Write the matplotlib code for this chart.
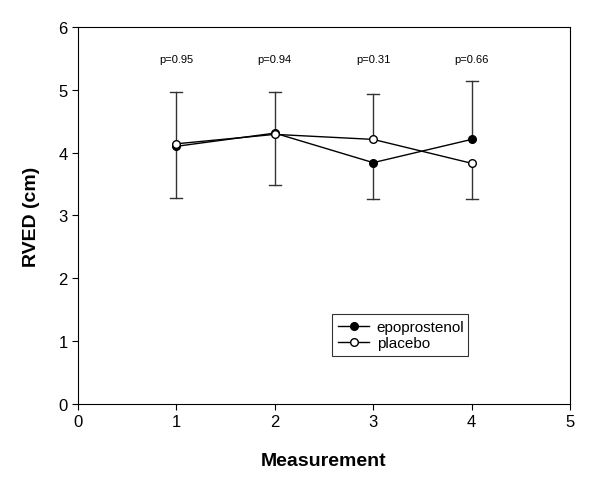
import numpy as np
import matplotlib.pyplot as plt

plt.rcParams['font.family'] = ['Liberation Sans', 'DejaVu Sans']

measurement = [1, 2, 3, 4]
epoprostenol = [4.10, 4.31, 3.84, 4.21]
placebo = [4.14, 4.29, 4.21, 3.83]
# whisker ends
bar_top = [4.97, 4.97, 4.93, 5.14]
bar_bottom = [3.27, 3.49, 3.26, 3.26]
p_values = ['p=0.95', 'p=0.94', 'p=0.31', 'p=0.66']

fig = plt.figure(figsize=(6, 4.81), dpi=100)
ax = fig.add_axes([0.13, 0.158, 0.82, 0.784])

hi = np.maximum(epoprostenol, placebo)
lo = np.minimum(epoprostenol, placebo)
for x, h, l, t, b in zip(measurement, hi, lo, bar_top, bar_bottom):
    ax.plot([x, x], [h, t], color='#333333', lw=1, zorder=1)
    ax.plot([x, x], [l, b], color='#333333', lw=1, zorder=1)
    ax.plot([x - 0.06, x + 0.06], [t, t], color='#333333', lw=1, zorder=1)
    ax.plot([x - 0.06, x + 0.06], [b, b], color='#333333', lw=1, zorder=1)

ax.plot(measurement, epoprostenol, color='black', lw=1, marker='o', ms=5.5,
        mfc='black', mec='black', label='epoprostenol', zorder=3)
ax.plot(measurement, placebo, color='black', lw=1, marker='o', ms=5.5,
        mfc='white', mec='black', label='placebo', zorder=3)

for x, p in zip(measurement, p_values):
    ax.text(x, 5.49, p, ha='center', va='center', fontsize=8)

ax.set_xlim(0, 5)
ax.set_ylim(0, 6)
ax.set_xticks(range(6))
ax.set_yticks(range(7))
ax.tick_params(direction='out', length=4, labelsize=12, top=False, right=False)
ax.set_xlabel('Measurement', fontsize=14, fontweight='bold', labelpad=16)
ax.set_ylabel('RVED (cm)', fontsize=14, fontweight='bold', labelpad=13)

leg = ax.legend(loc='lower left', bbox_to_anchor=(0.517, 0.127, 0.275, 0.133),
                mode='expand', fontsize=11, frameon=True, fancybox=False,
                handlelength=2.0, borderpad=0.4, labelspacing=0.1,
                handletextpad=0.5, borderaxespad=0)
leg.get_frame().set_edgecolor('black')
leg.get_frame().set_linewidth(0.8)

fig.savefig('out.png', dpi=100)
